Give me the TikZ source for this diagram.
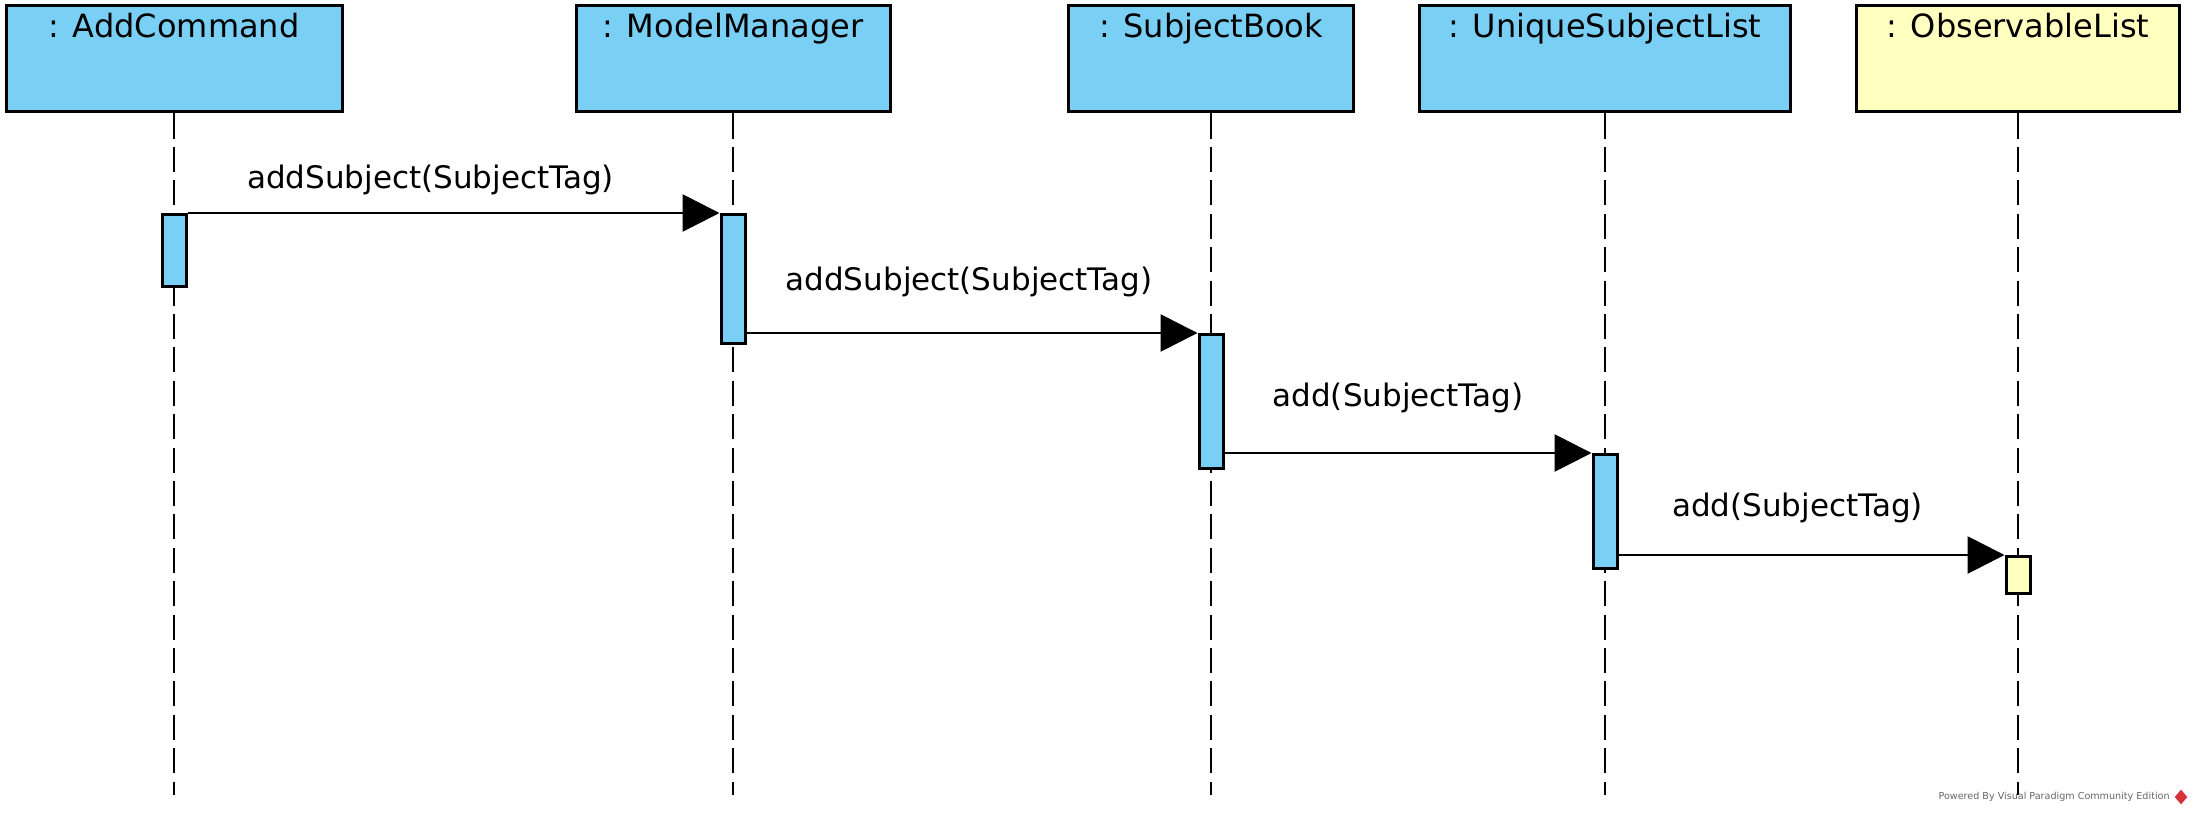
\documentclass[tikz,border=0pt]{standalone}
\usepackage{fontspec}
\setmainfont{DejaVu Sans}
\usetikzlibrary{arrows.meta, shapes.geometric}

\definecolor{vpblue}{RGB}{122,207,245}
\definecolor{vpyellow}{RGB}{255,255,192}
\definecolor{vpred}{RGB}{214,50,60}

\tikzset{
    object/.style={draw, line width=1.5pt, minimum height=53pt, inner sep=0pt},
    title/.style={anchor=north, inner sep=4.3pt, font=\fontsize{16}{19}\selectfont},
    lifeline/.style={line width=1.3pt, dash pattern=on 12.5pt off 4.2pt},
    activation/.style={draw, line width=1.5pt, minimum width=12pt, inner sep=0pt, anchor=north},
    message/.style={line width=1.4pt, -{Triangle[length=18.5pt, width=18.5pt]}},
    msglabel/.style={inner sep=0pt, font=\fontsize{15.5}{18}\selectfont}
}

\begin{document}
\begin{tikzpicture}[x=0.5pt, y=-0.5pt]
    \useasboundingbox (0, 0) rectangle (2193, 813);

    % draw object boxes
    \node[object, fill=vpblue, minimum width=168pt] (addCmd) at (174, 59) {};
    \node[object, fill=vpblue, minimum width=157pt] (modelMgr) at (733, 59) {};
    \node[object, fill=vpblue, minimum width=142.5pt] (subjBook) at (1211, 59) {};
    \node[object, fill=vpblue, minimum width=185.5pt] (uniqList) at (1605, 59) {};
    \node[object, fill=vpyellow, minimum width=161.5pt] (obsList) at (2018, 59) {};

    \node[title] (addCmdTitle) at (addCmd.north) {: AddCommand};
    \node[title] (modelMgrTitle) at (modelMgr.north) {: ModelManager};
    \node[title] (subjBookTitle) at (subjBook.north) {: SubjectBook};
    \node[title] (uniqListTitle) at (uniqList.north) {: UniqueSubjectList};
    \node[title] (obsListTitle) at (obsList.north) {: ObservableList};

    % draw lifelines
    \coordinate (bottom) at (0, 795);
    \foreach \obj in {addCmd, modelMgr, subjBook, uniqList, obsList}
        \draw[lifeline] (\obj.south) -- (\obj.south |- bottom);

    % draw activation bars
    \node[activation, fill=vpblue, minimum height=36pt] (addCmdAct) at (174, 213) {};
    \node[activation, fill=vpblue, minimum height=64.5pt] (modelMgrAct) at (733, 213) {};
    \node[activation, fill=vpblue, minimum height=67pt] (subjBookAct) at (1211, 333) {};
    \node[activation, fill=vpblue, minimum height=57pt] (uniqListAct) at (1605, 453) {};
    \node[activation, fill=vpyellow, minimum height=18.5pt] (obsListAct) at (2018, 555) {};

    % draw messages
    \draw[message] (addCmdAct.north east) -- node[msglabel, above=8.5pt, xshift=-11.5pt] (msgA) {addSubject(SubjectTag)} (modelMgrAct.north west);
    \draw[message] (modelMgrAct.east |- subjBookAct.north) -- node[msglabel, above=17.4pt, xshift=-1.5pt] (msgB) {addSubject(SubjectTag)} (subjBookAct.north west);
    \draw[message] (subjBookAct.east |- uniqListAct.north) -- node[msglabel, above=19.4pt, xshift=-5pt] (msgC) {add(SubjectTag)} (uniqListAct.north west);
    \draw[message] (uniqListAct.east |- obsListAct.north) -- node[msglabel, above=15.4pt, xshift=-7pt] (msgD) {add(SubjectTag)} (obsListAct.north west);

    % watermark
    \node[anchor=east, inner sep=0pt, text=black!60, font=\fontsize{4.8}{5}\selectfont] (vpMark) at (2170, 797) {Powered By Visual Paradigm Community Edition};
    \node[diamond, fill=vpred, minimum width=6.5pt, minimum height=7.5pt, inner sep=0pt] (vpLogo) at (2181, 797) {};
\end{tikzpicture}
\end{document}
